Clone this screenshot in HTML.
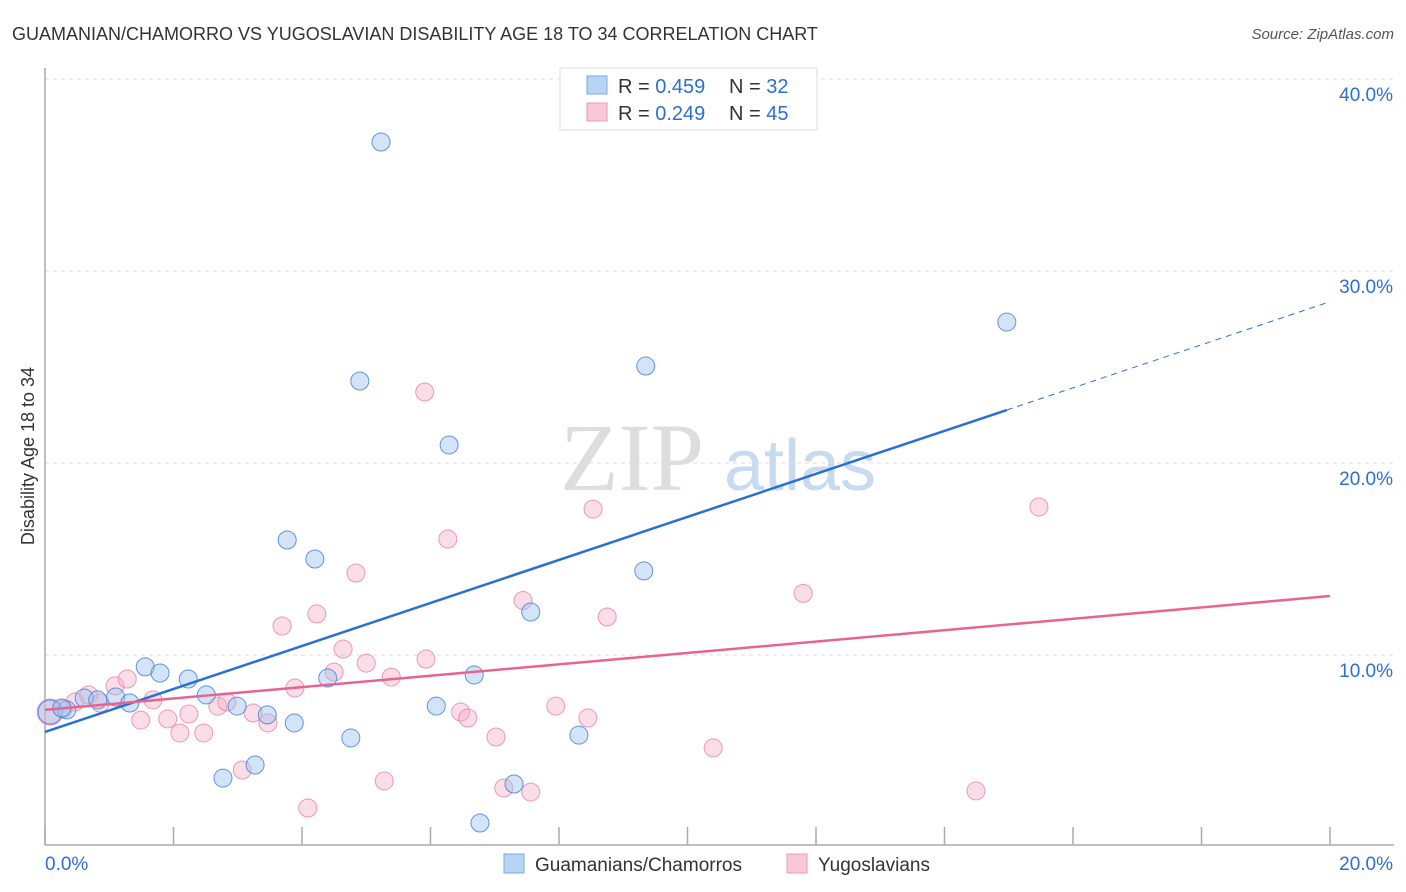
<!DOCTYPE html>
<html><head><meta charset="utf-8">
<style>
body{margin:0;background:#fff;font-family:"Liberation Sans",sans-serif;}
#wrap{position:relative;width:1406px;height:892px;overflow:hidden;}
</style></head>
<body>
<div id="wrap">
<svg id="chart" width="1406" height="892">
<text x="12" y="40" font-size="18" fill="#333">GUAMANIAN/CHAMORRO VS YUGOSLAVIAN DISABILITY AGE 18 TO 34 CORRELATION CHART</text>
<text x="1394" y="39" font-size="15" fill="#555" font-style="italic" text-anchor="end">Source: ZipAtlas.com</text>
<text x="632" y="490" font-size="96" fill="#ddd" font-family="Liberation Serif,serif" text-anchor="middle">ZIP</text>
<text x="800" y="490" font-size="72" fill="#c8daf0" text-anchor="middle">atlas</text>
<text transform="translate(34,456) rotate(-90)" font-size="18" fill="#333" text-anchor="middle">Disability Age 18 to 34</text>
<g id="grid"></g><g id="axes"></g><g id="pts"></g><g id="lines"></g>
<g>
<rect x="560" y="68" width="257" height="62" fill="#fff" stroke="#ddd"/>
<rect x="587" y="76" width="20" height="18" fill="#b8d4f5" stroke="#7aa8e0"/>
<rect x="587" y="103" width="20" height="18" fill="#f8c8d6" stroke="#eb9ab2"/>
<text x="618" y="93" font-size="20" fill="#333">R = <tspan fill="#2d6fd1">0.459</tspan></text>
<text x="729" y="93" font-size="20" fill="#333">N = <tspan fill="#2d6fd1"> 32</tspan></text>
<text x="618" y="120" font-size="20" fill="#333">R = <tspan fill="#2d6fd1">0.249</tspan></text>
<text x="729" y="120" font-size="20" fill="#333">N = <tspan fill="#2d6fd1">45</tspan></text>
</g>
<g>
<rect x="504" y="854" width="20" height="19" fill="#b8d4f5" stroke="#7aa8e0"/>
<text x="535" y="871" font-size="19" fill="#333">Guamanians/Chamorros</text>
<rect x="787" y="854" width="20" height="19" fill="#f8c8d6" stroke="#eb9ab2"/>
<text x="818" y="871" font-size="19" fill="#333">Yugoslavians</text>
</g>
</svg>
</div>
<script>
const blueX=[0.08,0.34,0.26,0.61,0.82,1.10,1.32,1.56,1.79,2.23,2.51,2.77,2.99,3.27,3.46,3.77,3.88,4.20,4.40,4.76,4.90,5.23,6.09,6.29,6.68,6.77,7.30,7.56,8.31,9.32,9.35,14.97];
const blueY=[7.03,7.14,7.24,7.76,7.66,7.81,7.50,9.38,9.06,8.75,7.92,3.59,7.34,4.27,6.88,15.99,6.46,15.0,8.80,5.68,24.27,36.72,7.34,20.94,8.96,1.25,3.28,12.24,5.83,14.38,25.05,27.34];
const pinkX=[0.08,0.28,0.47,0.68,0.86,1.09,1.28,1.49,1.68,1.91,2.10,2.24,2.47,2.69,2.83,3.07,3.24,3.47,3.69,3.89,4.09,4.23,4.50,4.64,4.84,5.00,5.28,5.39,5.91,5.93,6.27,6.47,6.58,7.02,7.14,7.44,7.56,7.95,8.45,8.53,8.75,10.40,11.80,14.49,15.47];
const pinkY=[7.03,7.19,7.55,7.92,7.50,8.39,8.75,6.61,7.66,6.67,5.94,6.93,5.94,7.34,7.55,4.01,6.98,6.46,11.51,8.28,2.03,12.14,9.11,10.31,14.27,9.58,3.44,8.85,23.7,9.79,16.04,7.03,6.72,5.73,3.07,12.84,2.86,7.34,6.72,17.6,11.98,5.16,13.21,2.92,17.71];
const blueTrend=[5.99,22.76,28.4];
const blueTrendX=[0,14.97,20];
const pinkTrend=[7.14,13.07];
const yTicks=[10,20,30,40];
const yTickLabels=["10.0%","20.0%","30.0%","40.0%"];
const xTicks=[0,2,4,6,8,10,12,14,16,18,20];

const NS="http://www.w3.org/2000/svg";
const sx=v=>45+v*64.25, sy=v=>847-v*19.2;
function mk(tag,attrs,parent){const e=document.createElementNS(NS,tag);for(const k in attrs)e.setAttribute(k,attrs[k]);document.getElementById(parent).appendChild(e);return e;}
yTicks.forEach((t,i)=>{
 const l=mk('line',{x1:45,x2:1394,y1:sy(t),y2:sy(t),stroke:'#ddd','stroke-dasharray':'4,4'},'grid');
 
 
 const tx=mk('text',{x:1393,y:sy(t)+22,'font-size':19,fill:'#2d6fd1','text-anchor':'end'},'grid');
 tx.textContent=yTickLabels[i];
 
 
});
const ax=mk('line',{x1:45,x2:45,y1:68,y2:845,stroke:'#aaa','stroke-width':1.5},'axes');


const bx=mk('line',{x1:45,x2:1394,y1:845,y2:845,stroke:'#aaa','stroke-width':1.5},'axes');


xTicks.forEach(t=>{
 const l=mk('line',{x1:sx(t),x2:sx(t),y1:827,y2:845,stroke:'#aaa','stroke-width':1.5},'axes');
 
 
});
const xl0=mk('text',{x:45,y:870,'font-size':19,fill:'#2d6fd1'},'axes');xl0.textContent='0.0%';


const xl1=mk('text',{x:1393,y:870,'font-size':19,fill:'#2d6fd1','text-anchor':'end'},'axes');xl1.textContent='20.0%';



pinkX.forEach((x,i)=>{
 const c=mk('circle',{cx:sx(x),cy:sy(pinkY[i]),r:i==0?13:9,fill:'rgba(245,170,195,0.4)',stroke:'rgba(230,130,165,0.8)','stroke-width':1},'pts');
 
 
});
blueX.forEach((x,i)=>{
 const c=mk('circle',{cx:sx(x),cy:sy(blueY[i]),r:i==0?12:9,fill:'rgba(160,195,240,0.45)',stroke:'rgba(70,130,215,0.85)','stroke-width':1},'pts');
 
 
});
const bl=mk('line',{x1:sx(blueTrendX[0]),y1:sy(blueTrend[0]),x2:sx(blueTrendX[1]),y2:sy(blueTrend[1]),stroke:'#2a6fd6','stroke-width':2.5},'lines');


const bd=mk('line',{x1:sx(blueTrendX[1]),y1:sy(blueTrend[1]),x2:sx(blueTrendX[2]),y2:sy(blueTrend[2]),stroke:'#2a6fd6','stroke-width':1,'stroke-dasharray':'6,5'},'lines');


const pl=mk('line',{x1:sx(0),y1:sy(pinkTrend[0]),x2:sx(20),y2:sy(pinkTrend[1]),stroke:'#e8648f','stroke-width':2.5},'lines');


</script>
</body></html>
